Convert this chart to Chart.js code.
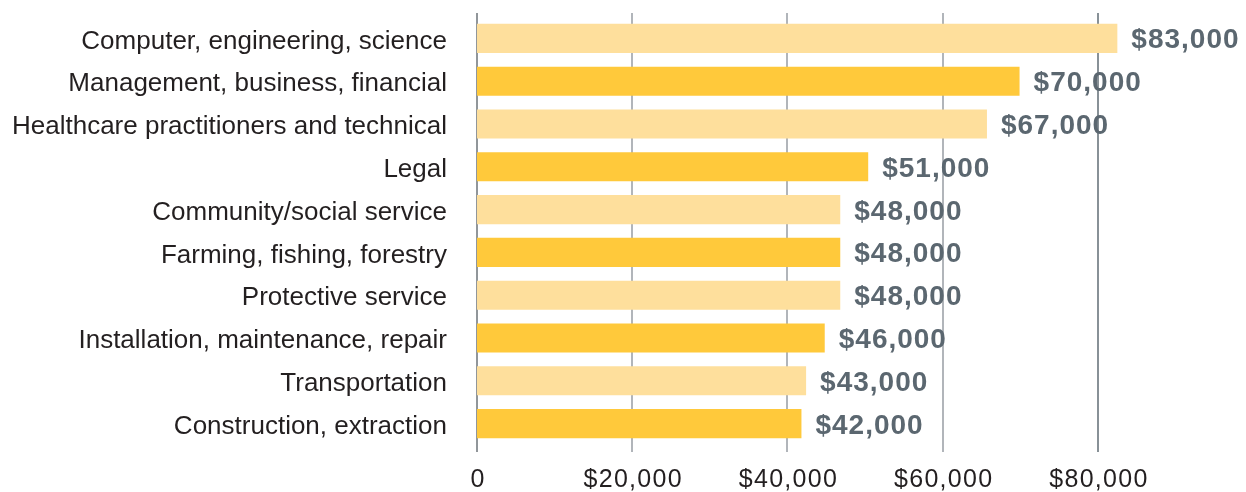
<!DOCTYPE html>
<html>
<head>
<meta charset="utf-8">
<script src="https://cdn.jsdelivr.net/npm/chart.js@4/dist/chart.umd.min.js"></script>
<style>
  html, body { margin: 0; padding: 0; background: #fff; }
  #wrap { width: 1246px; height: 492px; }
</style>
</head>
<body>
<div id="wrap"><canvas id="mycanvas" width="1246" height="492"></canvas></div>
<script>
// occupations, top to bottom
var categories = [
	"Computer, engineering, science",
	"Management, business, financial",
	"Healthcare practitioners and technical",
	"Legal",
	"Community/social service",
	"Farming, fishing, forestry",
	"Protective service",
	"Installation, maintenance, repair",
	"Transportation",
	"Construction, extraction"
];
// bar lengths
var salaries = [82500, 69900, 65700, 50400, 46800, 46800, 46800, 44800, 42400, 41800];
// printed labels next to each bar
var salaryLabels = ["$83,000", "$70,000", "$67,000", "$51,000", "$48,000", "$48,000", "$48,000", "$46,000", "$43,000", "$42,000"];
var xTickValues = [0, 20000, 40000, 60000, 80000];
var xTickLabels = ["0", "$20,000", "$40,000", "$60,000", "$80,000"];

var lightBar = "#FEDF9C";
var darkBar = "#FFC93B";
var barColors = [];
for (var i in categories) {
	barColors.push(i % 2 == 0 ? lightBar : darkBar);
}

var FONT = "'Liberation Sans', Arial, sans-serif";

// vertical gridlines behind the bars
var gridPlugin = {
	id: "gridLines",
	beforeDatasetsDraw: function(chart) {
		var ctx = chart.ctx;
		var xs = chart.scales.x;
		var area = chart.chartArea;
		ctx.save();
		for (var i = 0; i < xTickValues.length; i++) {
			var x = Math.round(xs.getPixelForValue(xTickValues[i]));
			ctx.beginPath();
			ctx.strokeStyle = i == 0 ? "#6c7379" : (i == xTickValues.length - 1 ? "#616c74" : "#979da3");
			ctx.lineWidth = 1.5;
			ctx.moveTo(x, area.top - 4);
			ctx.lineTo(x, area.bottom + 7);
			ctx.stroke();
		}
		ctx.restore();
	}
};

// value labels next to the bars and the x tick labels (wider spacing than the built-in ticks allow)
var textPlugin = {
	id: "textLabels",
	afterDatasetsDraw: function(chart) {
		var ctx = chart.ctx;
		var meta = chart.getDatasetMeta(0);
		var xs = chart.scales.x;
		ctx.save();
		ctx.letterSpacing = "1px";
		ctx.font = "bold 28px " + FONT;
		ctx.fillStyle = "#5b6770";
		ctx.textAlign = "left";
		ctx.textBaseline = "alphabetic";
		meta.data.forEach(function(bar, i) {
			ctx.fillText(salaryLabels[i], bar.x + 14, bar.y + 10);
		});

		ctx.letterSpacing = "1.3px";
		ctx.font = "25px " + FONT;
		ctx.fillStyle = "#231f20";
		ctx.textAlign = "center";
		for (var j = 0; j < xTickValues.length; j++) {
			ctx.fillText(xTickLabels[j], xs.getPixelForValue(xTickValues[j]) + 1, 487);
		}
		ctx.restore();
	}
};

var chartdata = {
	labels: categories,
	datasets: [
		{
			label: "Median salary",
			data: salaries,
			backgroundColor: barColors,
			borderWidth: 0,
			barPercentage: 0.68,
			categoryPercentage: 1.0
		}
	]
};

var ctx = document.getElementById("mycanvas");

var barGraph = new Chart(ctx, {
	type: "bar",
	data: chartdata,
	options: {
		indexAxis: "y",
		responsive: false,
		animation: false,
		layout: { padding: { top: 17, right: 117, left: 0, bottom: 0 } },
		plugins: {
			legend: { display: false },
			tooltip: { enabled: false }
		},
		scales: {
			x: {
				min: 0,
				max: 84000,
				grid: { display: false, drawTicks: false },
				border: { display: false },
				ticks: { display: false },
				afterFit: function(scale) {
					scale.height = 47;
					scale.paddingLeft = 0;
					scale.paddingRight = 0;
				}
			},
			y: {
				grid: { display: false, drawTicks: false },
				border: { display: false },
				afterFit: function(scale) {
					scale.width = 477;
					scale.paddingTop = 0;
					scale.paddingBottom = 0;
				},
				ticks: {
					padding: 30,
					labelOffset: 3,
					color: "#231f20",
					font: { family: FONT, size: 26 }
				}
			}
		}
	},
	plugins: [gridPlugin, textPlugin]
});
</script>
</body>
</html>
